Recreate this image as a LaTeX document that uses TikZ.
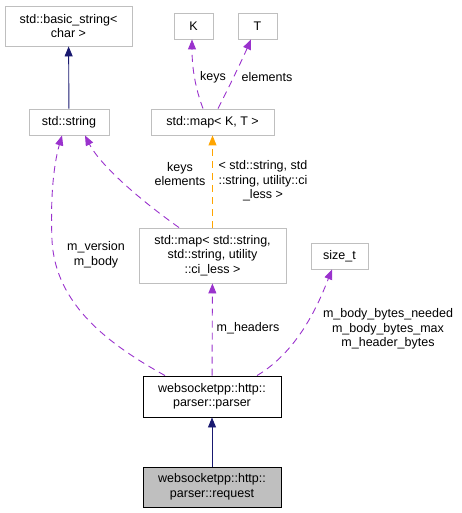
\documentclass[tikz,border=0pt]{standalone}
\usepackage{fontspec}
\setmainfont{Liberation Sans}
\usetikzlibrary{arrows.meta}
\definecolor{edgepurple}{HTML}{9A32CD}
\definecolor{edgenavy}{HTML}{191970}
\definecolor{edgeorange}{HTML}{FFA500}
\definecolor{boxgray}{HTML}{BFBFBF}
\tikzset{
  cls/.style={draw=boxgray, line width=0.9pt, inner sep=0pt, align=center,
    font=\fontsize{12.5}{14.5}\selectfont},
  lbl/.style={inner sep=0pt, align=center, font=\fontsize{12.5}{14.5}\selectfont},
  member/.style={draw=edgepurple, line width=0.9pt, dash pattern=on 7pt off 5pt,
    -{Triangle[length=10pt,width=8pt]}},
  templ/.style={draw=edgeorange, line width=0.9pt, dash pattern=on 7pt off 5pt,
    -{Triangle[length=10pt,width=8pt,fill=edgeorange]}},
  inherit/.style={draw=edgenavy, line width=0.9pt,
    -{Triangle[length=10pt,width=8pt,fill=edgenavy]}},
}
\begin{document}
\begin{tikzpicture}[x=1pt,y=-1pt]
\useasboundingbox (0,0) rectangle (461,513);
% classes
\node[cls, minimum width=127pt, minimum height=40pt] (bstr) at (68.5,26) {std::basic\_string<\\ char >};
\node[cls, minimum width=39pt, minimum height=26pt] (kk) at (193.5,26) {K};
\node[cls, minimum width=39pt, minimum height=26pt] (tt) at (257.5,26) {T};
\node[cls, minimum width=80pt, minimum height=26pt] (str) at (69,122) {std::string};
\node[cls, minimum width=123pt, minimum height=26pt] (mapkt) at (212.5,122) {std::map< K, T >};
\node[cls, minimum width=147pt, minimum height=55pt] (hdrmap) at (212.5,255.5) {std::map< std::string,\\ std::string, utility\\ ::ci\_less >};
\node[cls, minimum width=57pt, minimum height=26pt] (sizet) at (339.5,256) {size\_t};
\node[cls, draw=black, minimum width=138pt, minimum height=41pt] (parser) at (212,396.5) {websocketpp::http::\\ parser::parser};
\node[cls, draw=black, fill=boxgray, minimum width=138pt, minimum height=40pt] (request) at (212,487) {websocketpp::http::\\ parser::request};
% connectors
\draw[inherit] (str) -- (bstr);
\draw[inherit] (request) -- (parser);
\draw[member] ([xshift=-9.5pt]mapkt.north) .. controls (196,90) and (192,70) .. ([xshift=-1.5pt]kk.south);
\draw[member] ([xshift=5.5pt]mapkt.north) .. controls (230,85) and (242,60) .. ([xshift=-6.5pt]tt.south);
\draw[templ] (hdrmap) -- (mapkt);
\draw[member] ([xshift=-33.5pt]hdrmap.north) .. controls (140,200) and (100,165) .. ([xshift=16pt]str.south);
\draw[member] ([xshift=-47pt]parser.north) .. controls (110,345) and (55,305) .. (52,240)
  .. controls (50,190) and (55,160) .. ([xshift=-7pt]str.south);
\draw[member] (parser) -- (hdrmap);
\draw[member] ([xshift=45pt]parser.north) .. controls (300,350) and (320,300) .. ([xshift=-7.5pt]sizet.south);
% labels
\node[lbl] (lkeys) at (213,77) {keys};
\node[lbl] (lelems) at (267,77) {elements};
\node[lbl] (ltempl) at (263,181) {< std::string, std\\ ::string, utility::ci\\ \_less >};
\node[lbl] (lkeyselems) at (180,174) {keys\\ elements};
\node[lbl] (lversion) at (96,255) {m\_version\\ m\_body};
\node[lbl] (lheaders) at (248,328) {m\_headers};
\node[lbl] (lbytes) at (388,329) {m\_body\_bytes\_needed\\ m\_body\_bytes\_max\\ m\_header\_bytes};
\end{tikzpicture}
\end{document}
